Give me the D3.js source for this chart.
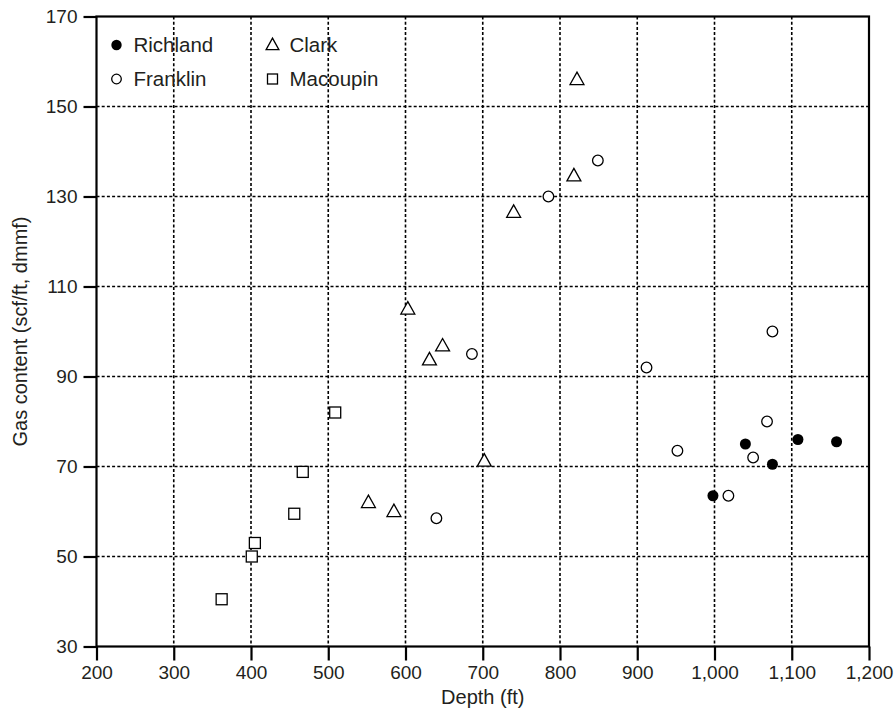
<!DOCTYPE html>
<html><head><meta charset="utf-8">
<script src="https://cdn.jsdelivr.net/npm/d3@7"></script>
<style>body{margin:0;background:#fff}text{font-family:"Liberation Sans",Arial,sans-serif;fill:#231f20}</style>
</head><body><svg id="c" width="895" height="715"></svg>
<script>
const xTicks=[200,300,400,500,600,700,800,900,1000,1100,1200];
const yTicks=[30,50,70,90,110,130,150,170];
const richland=[[998,63.5],[1040,75],[1075,70.5],[1108,76],[1158,75.5]];
const franklin=[[640,58.5],[686,95],[785,130],[849,138],[912,92],[952,73.5],[1018,63.5],[1050,72],[1068,80],[1075,100]];
const clark=[[552,62],[585,60],[603,105],[631,93.7],[648,96.8],[702,71.2],[740,126.5],[818,134.6],[822,156]];
const macoupin=[[362,40.5],[401,50],[405,53],[456,59.5],[467,68.8],[509,82]];
const seriesNames=["Richland","Franklin","Clark","Macoupin"];

const svg=d3.select("#c");
const L=96.5,R=869,T=16.5,B=646.5;
const x=d3.scaleLinear().domain([200,1200]).range([L,R]);
const y=d3.scaleLinear().domain([30,170]).range([B,T]);
const fmt=d3.format(",");

// grid
svg.append("g").selectAll("line").data(xTicks.slice(1,-1)).join("line")
 .attr("x1",d=>x(d)).attr("x2",d=>x(d)).attr("y1",T).attr("y2",B)
 .attr("stroke","#000").attr("stroke-width",1.6).attr("stroke-dasharray","3,2.2");
svg.append("g").selectAll("line").data(yTicks.slice(1,-1)).join("line")
 .attr("y1",d=>y(d)).attr("y2",d=>y(d)).attr("x1",L).attr("x2",R)
 .attr("stroke","#000").attr("stroke-width",1.6).attr("stroke-dasharray","3,2.2");

// frame
svg.append("rect").attr("x",L).attr("y",T).attr("width",R-L).attr("height",B-T)
 .attr("fill","none").attr("stroke","#000").attr("stroke-width",2.2);

const xAxis=svg.append("g").attr("transform",`translate(0,${B})`)
 .call(d3.axisBottom(x).tickValues(xTicks).tickFormat(fmt).tickSize(14).tickPadding(5));
const yAxis=svg.append("g").attr("transform",`translate(${L},0)`)
 .call(d3.axisLeft(y).tickValues(yTicks).tickSize(13).tickPadding(6));
[xAxis,yAxis].forEach(g=>{
 g.select(".domain").remove();
 g.selectAll(".tick line").attr("stroke","#000").attr("stroke-width",2.2);
 g.selectAll(".tick text").attr("font-size",19).style("font-family","Liberation Sans, Arial, sans-serif").attr("fill","#231f20");
});

svg.append("text").attr("x",(L+R)/2).attr("y",704).attr("text-anchor","middle").attr("font-size",20).text("Depth (ft)");
svg.append("text").attr("transform",`translate(27,${(T+B)/2}) rotate(-90)`).attr("text-anchor","middle").attr("font-size",20).text("Gas content (scf/ft, dmmf)");

const tri=s=>`M0,${-s*0.62}L${s*0.58},${s*0.42}L${-s*0.58},${s*0.42}Z`;
function draw(data,type){
 const g=svg.append("g");
 data.forEach(([a,b])=>{
  const px=x(a),py=y(b);
  if(type==="fc") g.append("circle").attr("cx",px).attr("cy",py).attr("r",5.5).attr("fill","#000");
  else if(type==="oc") g.append("circle").attr("cx",px).attr("cy",py).attr("r",5.3).attr("fill","#fff").attr("stroke","#000").attr("stroke-width",1.3);
  else if(type==="tri") g.append("path").attr("d",tri(12)).attr("transform",`translate(${px},${py})`).attr("fill","#fff").attr("stroke","#000").attr("stroke-width",1.3);
  else g.append("rect").attr("x",px-5.5).attr("y",py-5.5).attr("width",11).attr("height",11).attr("fill","#fff").attr("stroke","#000").attr("stroke-width",1.3);
 });
}
draw(macoupin,"sq");draw(clark,"tri");draw(franklin,"oc");draw(richland,"fc");

// legend
const leg=[{n:seriesNames[0],t:"fc",x:116.5,y:45},{n:seriesNames[1],t:"oc",x:116.5,y:79},{n:seriesNames[2],t:"tri",x:272.5,y:45},{n:seriesNames[3],t:"sq",x:272.5,y:79}];
leg.forEach(d=>{
 if(d.t==="fc") svg.append("circle").attr("cx",d.x).attr("cy",d.y).attr("r",5.2).attr("fill","#000");
 else if(d.t==="oc") svg.append("circle").attr("cx",d.x).attr("cy",d.y).attr("r",4.8).attr("fill","#fff").attr("stroke","#000").attr("stroke-width",1.3);
 else if(d.t==="tri") svg.append("path").attr("d",tri(11)).attr("transform",`translate(${d.x},${d.y})`).attr("fill","#fff").attr("stroke","#000").attr("stroke-width",1.3);
 else svg.append("rect").attr("x",d.x-5).attr("y",d.y-5).attr("width",10).attr("height",10).attr("fill","#fff").attr("stroke","#000").attr("stroke-width",1.3);
 svg.append("text").attr("x",d.x+17).attr("y",d.y+7).attr("font-size",20.5).text(d.n);
});
</script></body></html>
